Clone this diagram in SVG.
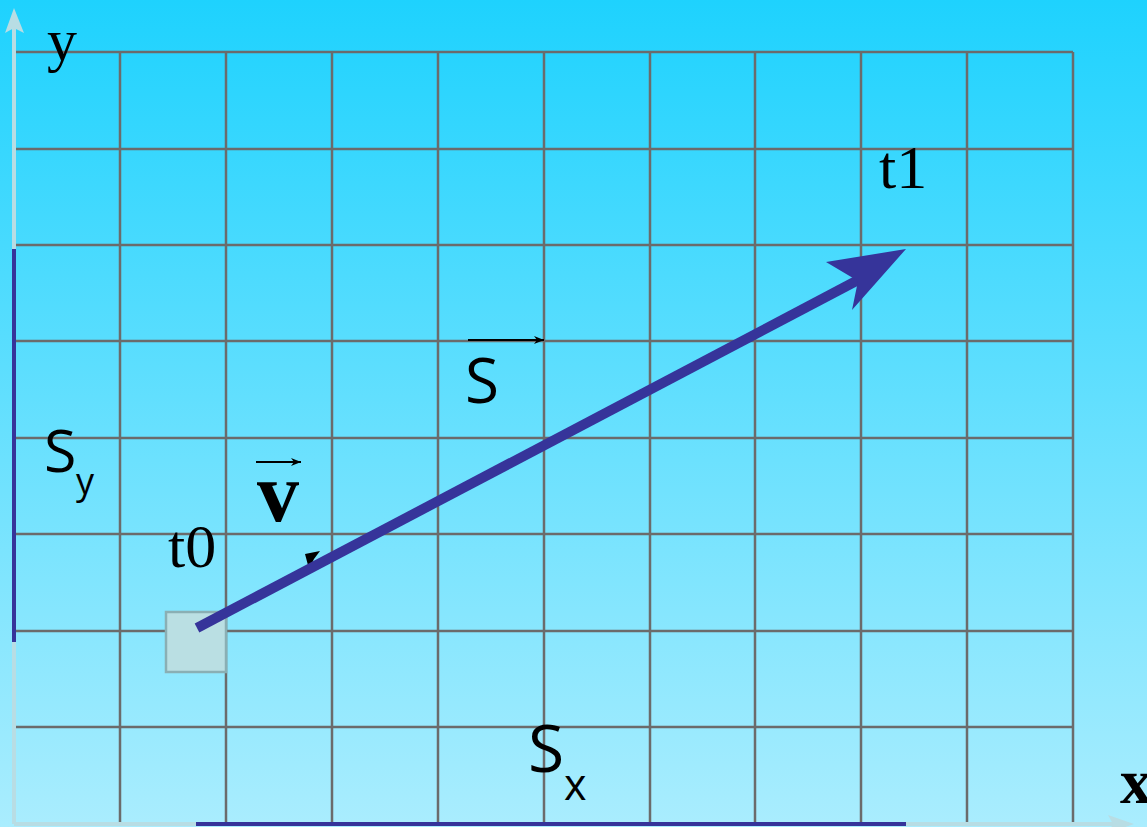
<svg xmlns="http://www.w3.org/2000/svg" width="1147" height="827" viewBox="0 0 1147 827">
  <defs>
    <linearGradient id="bg" x1="0" y1="0" x2="0" y2="1">
      <stop offset="0" stop-color="#1ed2fe"/>
      <stop offset="1" stop-color="#aaedfe"/>
    </linearGradient>
    <marker id="ah" viewBox="0 0 10 10" refX="10" refY="5" markerWidth="10" markerHeight="8" orient="auto" markerUnits="userSpaceOnUse" preserveAspectRatio="none">
      <path d="M0,0 L10,5 L0,10 L3,5 Z" fill="#000"/>
    </marker>
    <style>
      .grid { stroke: #6b6b6b; stroke-width: 2.5; fill: none; }
      .axis { stroke: #b8dde4; stroke-width: 4; fill: none; }
      .blue { stroke: #36349a; fill: none; }
      .serif { font-family: "Liberation Serif", "DejaVu Serif", serif; fill: #000; }
      .sans { font-family: "Open Sans", "Liberation Sans", sans-serif; fill: #000; }
      .vec { stroke: #000; stroke-width: 2; fill: none; }
    </style>
  </defs>
  <rect width="1147" height="827" fill="url(#bg)"/>

  <g id="grid">
    <path class="grid" d="M16,52H1073 M16,149H1073 M16,245H1073 M16,341H1073 M16,438H1073 M16,534H1073 M16,631H1073 M16,727H1073"/>
    <path class="grid" d="M120,52V823 M226,52V823 M332,52V823 M438,52V823 M544,52V823 M650,52V823 M755,52V823 M861,52V823 M967,52V823 M1073,52V823"/>
  </g>

  <g id="axes">
    <path class="axis" d="M14,824V26"/>
    <polygon points="14,8 24,33 14,28 5,33" fill="#b8dde4"/>
    <path class="axis" d="M14,824H1115"/>
    <polygon points="1134,824 1108,815 1113,824 1108,833" fill="#b8dde4"/>
    <path class="blue" stroke-width="4" d="M14,249V642"/>
    <path class="blue" stroke-width="4" d="M196,824H906"/>
  </g>

  <g id="start-box">
    <rect x="166" y="612" width="60" height="60" fill="#badfe3" stroke="#8aafb4" stroke-width="2.5"/>
  </g>

  <g id="connectors">
    <polygon points="305,554 320,551 314,559 309,569" fill="#000"/>
    <path class="blue" stroke-width="10" d="M197,628L860,279"/>
    <polygon points="906,249 826,262 858,281 852,310" fill="#36349a"/>
  </g>

  <g id="labels">
    <text class="serif" x="47" y="60" font-size="60">y</text>
    <text class="serif" x="879" y="188" font-size="62">t1</text>
    <text class="serif" x="168" y="567" font-size="62">t0</text>
    <text class="serif" x="257" y="521" font-size="84" font-weight="bold">v</text>
    <path class="vec" d="M256,462H301" marker-end="url(#ah)"/>
    <text class="sans" x="465" y="403" font-size="62">S</text>
    <path class="vec" d="M468,340H544" marker-end="url(#ah)"/>
    <text class="sans" x="44" y="472" font-size="59">S</text>
    <text class="sans" x="76" y="494" font-size="36">y</text>
    <text class="sans" x="528" y="772" font-size="66">S</text>
    <text class="sans" x="564" y="800" font-size="43">x</text>
    <text class="serif" x="1120" y="803" font-size="64" font-weight="bold">x</text>
  </g>
</svg>
